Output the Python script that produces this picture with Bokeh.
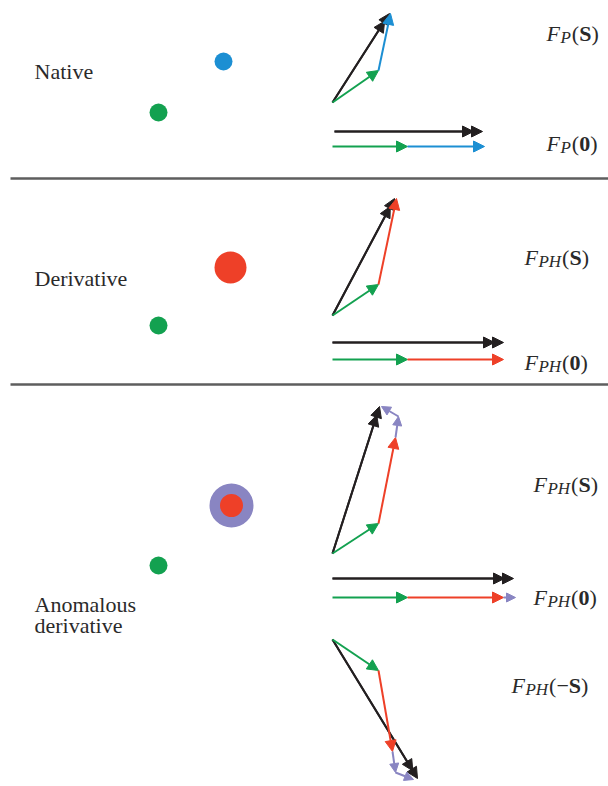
import math
from bokeh.plotting import figure
from bokeh.models import Range1d, Arrow, NormalHead, ColumnDataSource
from bokeh.core.properties import value
from bokeh.embed import file_html
from bokeh.resources import INLINE

GREEN = "#13a150"
BLUE = "#1c8fd3"
RED = "#ee4028"
PURPLE = "#8985c2"
BLACK = "#231f20"
RULE = "#5e5e5e"
TEXT = "#2a2a2a"
SERIF = "Liberation Serif"

# ---- data -------------------------------------------------------------
section_text = ["Native", "Derivative", "Anomalous", "derivative"]
section_text_x = [34, 34, 34, 34]
section_text_y = [71, 278, 604, 625]

rule_y = [178, 384]

# atoms (positions in the picture, diameters)
dot_x = [223, 158, 230, 158, 231, 231, 158]
dot_y = [61, 112, 267, 325, 505, 505, 565]
dot_d = [18, 18, 32, 18, 44, 23, 18]
dot_c = [BLUE, GREEN, RED, GREEN, PURPLE, RED, GREEN]

# vector chains (head-to-tail), one colour per segment
chain_x = [
    [332, 378, 390],
    [332, 407, 484],
    [332, 378, 396],
    [332, 407, 503],
    [332, 378, 395, 398, 381],
    [332, 407, 503, 515],
    [332, 378, 392, 395, 413],
]
chain_y = [
    [102, 70, 13],
    [146, 146, 146],
    [315, 284, 198],
    [359, 359, 359],
    [553, 523, 437, 416, 406],
    [597, 597, 597, 597],
    [639, 670, 751, 772, 779],
]
chain_c = [
    [GREEN, BLUE],
    [GREEN, BLUE],
    [GREEN, RED],
    [GREEN, RED],
    [GREEN, RED, PURPLE, PURPLE],
    [GREEN, RED, PURPLE],
    [GREEN, RED, PURPLE, PURPLE],
]

# resultant (black, double head)
res_x0 = [332, 334, 332, 332, 332, 332, 332]
res_y0 = [102, 131, 315, 342, 553, 578, 639]
res_x1 = [389, 482, 394, 503, 379, 513, 417]
res_y1 = [13, 131, 198, 342, 406, 578, 778]

# labels F_sub(arg)
label_sub = ["P", "P", "PH", "PH", "PH", "PH", "PH"]
label_arg = ["S", "0", "S", "0", "S", "0", "S"]
label_neg = [False, False, False, False, False, False, True]
label_x = [546, 546, 524, 524, 533, 533, 511]
label_y = [33, 143, 257, 362, 484, 597, 685]

# ---- figure -----------------------------------------------------------
W, H = 608, 786
p = figure(width=W, height=H, x_range=Range1d(0, W), y_range=Range1d(H, 0),
           output_backend="svg", toolbar_location=None,
           x_axis_type=None, y_axis_type=None, min_border=0)
p.grid.visible = False
p.outline_line_color = None
p.background_fill_color = "white"
p.border_fill_color = "white"

# rules
p.segment(x0=[10] * len(rule_y), y0=rule_y, x1=[W] * len(rule_y), y1=rule_y,
          line_color=RULE, line_width=2.5)

# section titles
p.text(x=section_text_x, y=section_text_y, text=section_text,
       text_font=value(SERIF), text_font_size="22px", text_color=TEXT,
       text_baseline="alphabetic", text_align="left")

# atoms
p.scatter(x=dot_x, y=dot_y, size=dot_d, fill_color=dot_c, line_color=None)

# arrows grouped by colour
groups = {}
for xs, ys, cs in zip(chain_x, chain_y, chain_c):
    for i, c in enumerate(cs):
        g = groups.setdefault(c, dict(xs=[], ys=[], xe=[], ye=[]))
        g["xs"].append(xs[i]); g["ys"].append(ys[i])
        g["xe"].append(xs[i + 1]); g["ye"].append(ys[i + 1])

bk = dict(xs=[], ys=[], xe=[], ye=[])
bk2 = dict(xs=[], ys=[], xe=[], ye=[])
for x0, y0, x1, y1 in zip(res_x0, res_y0, res_x1, res_y1):
    L = math.hypot(x1 - x0, y1 - y0)
    ux, uy = (x1 - x0) / L, (y1 - y0) / L
    bk["xs"].append(x0); bk["ys"].append(y0); bk["xe"].append(x1); bk["ye"].append(y1)
    bk2["xs"].append(x0); bk2["ys"].append(y0)
    bk2["xe"].append(x1 - 9 * ux); bk2["ye"].append(y1 - 9 * uy)
groups_list = [(BLACK, bk), (BLACK, bk2)] + [(c, g) for c, g in groups.items()]

for c, g in groups_list:
    size = 9 if c == PURPLE else 11
    arr = Arrow(end=NormalHead(size=size, fill_color=c, line_color=c, line_width=1),
                x_start="xs", y_start="ys", x_end="xe", y_end="ye",
                source=ColumnDataSource(g), line_color=c, line_width=2)
    p.add_layout(arr)

# labels composed of pieces
BIG, SMALL = 22, 17
ital_w = {"F": 0.611, "P": 0.611, "H": 0.722}
bold_w = {"S": 0.556, "0": 0.5}
pieces = {"F": dict(x=[], y=[], t=[]), "sub": dict(x=[], y=[], t=[]),
          "reg": dict(x=[], y=[], t=[]), "bold": dict(x=[], y=[], t=[])}
for sub, arg, neg, x, y in zip(label_sub, label_arg, label_neg, label_x, label_y):
    cx = x
    pieces["F"]["x"].append(cx); pieces["F"]["y"].append(y); pieces["F"]["t"].append("F")
    cx += ital_w["F"] * BIG + 0.5
    pieces["sub"]["x"].append(cx); pieces["sub"]["y"].append(y + 4); pieces["sub"]["t"].append(sub)
    cx += sum(ital_w[ch] for ch in sub) * SMALL + 1
    open_txt = "(\u2212" if neg else "("
    pieces["reg"]["x"].append(cx); pieces["reg"]["y"].append(y); pieces["reg"]["t"].append(open_txt)
    cx += (0.333 + (0.564 if neg else 0)) * BIG
    pieces["bold"]["x"].append(cx); pieces["bold"]["y"].append(y); pieces["bold"]["t"].append(arg)
    cx += bold_w[arg] * BIG
    pieces["reg"]["x"].append(cx); pieces["reg"]["y"].append(y); pieces["reg"]["t"].append(")")

styles = {"F": ("italic", BIG), "sub": ("italic", SMALL), "reg": ("normal", BIG), "bold": ("bold", BIG)}
for k, d in pieces.items():
    st, sz = styles[k]
    p.text(x=d["x"], y=d["y"], text=d["t"], text_font=value(SERIF), text_font_size=f"{sz}px",
           text_font_style=st, text_color=TEXT, text_baseline="alphabetic", text_align="left")

open("out.html", "w").write(file_html(p, INLINE))
